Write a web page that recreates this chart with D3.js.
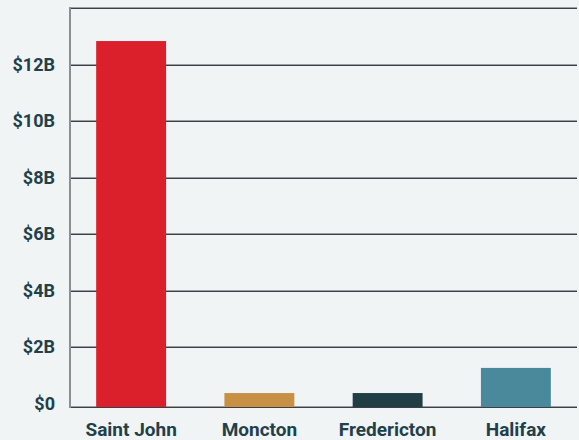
<!DOCTYPE html>
<html><head><meta charset="utf-8">
<script src="https://cdn.jsdelivr.net/npm/d3@7"></script>
<style>
html,body{margin:0;padding:0;background:#f1f4f5;}
svg{display:block;}
text{font-family:Roboto,"Open Sans",sans-serif;font-weight:700;fill:#22404a;}
</style></head><body>
<svg id="c" width="579" height="440"></svg>
<script>
const categories = ["Saint John","Moncton","Fredericton","Halifax"];
const values = [12.83e9, 0.37e9, 0.37e9, 1.26e9];
const colors = ["#db1f2b","#c89044","#213e45","#4a889b"];
const tickValues = [0,2e9,4e9,6e9,8e9,10e9,12e9,14e9];
const tickLabels = ["$0","$2B","$4B","$6B","$8B","$10B","$12B","$14B"];

const svg = d3.select("#c");
const axisX=70, baseY=407;
const x = d3.scaleBand().domain(categories).range([67,580]).paddingInner(0.455).paddingOuter(0.2275);
const y = d3.scaleLinear().domain([0,14e9]).range([403.5,8]);

// gridlines
const grid = svg.append("g");
tickValues.filter(v=>v>0).forEach(v=>{
  const yy=Math.round(y(v));
  grid.append("line").attr("x1",axisX).attr("x2",577).attr("y1",yy-0.5).attr("y2",yy-0.5).attr("stroke","#9a9fa1").attr("stroke-width",1);
  grid.append("line").attr("x1",axisX).attr("x2",577).attr("y1",yy+0.5).attr("y2",yy+0.5).attr("stroke","#3a4044").attr("stroke-width",1);
});
// baseline
svg.append("line").attr("x1",axisX).attr("x2",577).attr("y1",baseY-0.5).attr("y2",baseY-0.5).attr("stroke","#9a9fa1");
svg.append("line").attr("x1",axisX).attr("x2",577).attr("y1",baseY+0.5).attr("y2",baseY+0.5).attr("stroke","#3a4044");

// bars
svg.append("g").selectAll("rect").data(categories).join("rect")
  .attr("x",d=>x(d)).attr("width",x.bandwidth())
  .attr("y",(d,i)=>y(values[i])).attr("height",(d,i)=>baseY-y(values[i]))
  .attr("fill",(d,i)=>colors[i]);

// y axis line
svg.append("line").attr("x1",axisX).attr("x2",axisX).attr("y1",7).attr("y2",baseY+1).attr("stroke","#8a8f92").attr("stroke-width",2);

// y labels (skip top)
svg.append("g").selectAll("text").data(tickValues.slice(0,7)).join("text")
  .attr("x",55).attr("y",d=>y(d)).attr("dy","0.35em").attr("text-anchor","end")
  .attr("font-size",18).text((d,i)=>tickLabels[i]);

// x labels
svg.append("g").selectAll("text").data(categories).join("text")
  .attr("x",d=>x(d)+x.bandwidth()/2).attr("y",436).attr("text-anchor","middle")
  .attr("font-size",19).text(d=>d);
</script></body></html>
